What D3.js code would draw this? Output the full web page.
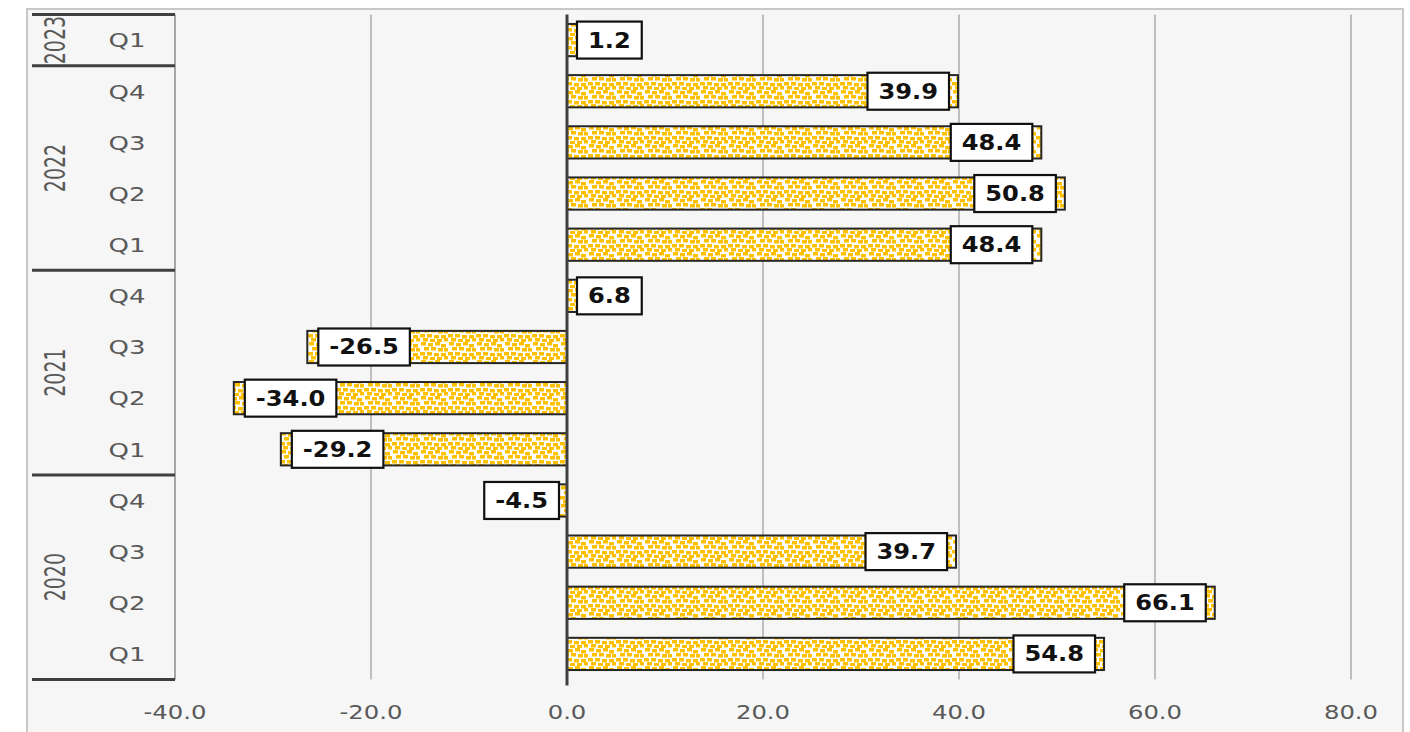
<!DOCTYPE html>
<html>
<head>
<meta charset="utf-8">
<script src="https://cdn.jsdelivr.net/npm/d3@7"></script>
<style>
  body { margin: 0; background: #fff; }
  svg { display: block; }
</style>
</head>
<body>
<svg id="chart"></svg>
<script>
// chronological order, drawn bottom-up
const years = ["2020", "2020", "2020", "2020", "2021", "2021", "2021", "2021", "2022", "2022", "2022", "2022", "2023"];
const quarters = ["Q1", "Q2", "Q3", "Q4", "Q1", "Q2", "Q3", "Q4", "Q1", "Q2", "Q3", "Q4", "Q1"];
const values = [54.8, 66.1, 39.7, -4.5, -29.2, -34.0, -26.5, 6.8, 48.4, 50.8, 48.4, 39.9, 1.2];
const xTicks = [-40, -20, 0, 20, 40, 60, 80];

const W = 1410, H = 732;
const plotL = 175, plotR = 1351, plotT = 14.5, plotB = 679.5;
const fmt = v => v.toFixed(1);

const svg = d3.select("#chart").attr("width", W).attr("height", H);

// chart area
svg.append("rect")
  .attr("x", 27).attr("y", 9).attr("width", 1376).attr("height", 730)
  .attr("fill", "#f6f6f6").attr("stroke", "#c8c8c8").attr("stroke-width", 2);

// dotted fill of the bars
const defs = svg.append("defs");
const pat = defs.append("pattern")
  .attr("id", "dots").attr("patternUnits", "userSpaceOnUse")
  .attr("width", 28).attr("height", 18);
pat.append("rect").attr("width", 28).attr("height", 18).attr("fill", "#fff");
[[1, 0], [8, 1], [15, 0], [21, 2], [4, 5], [11, 5], [18, 6], [24, 6],
 [0, 10], [7, 10], [14, 11], [21, 11], [3, 14], [10, 15], [17, 15], [24, 14]].forEach(p => {
  pat.append("rect").attr("x", p[0]).attr("y", p[1]).attr("width", 5).attr("height", 3.5).attr("fill", "#ffc000");
});

const idx = d3.range(values.length);
const x = d3.scaleLinear().domain([-40, 80]).range([plotL, plotR]);
const y = d3.scaleBand().domain(idx.slice().reverse()).range([plotT, plotB]).paddingInner(0.37).paddingOuter(0.185);
const step = y.step();
const rowY = i => plotT + (values.length - 1 - i) * step;

// stretched text helper
function stext(parent, cx, cy, str, size, sx, opts = {}) {
  const g = parent.append("g")
    .attr("transform", `translate(${cx},${cy}) scale(${sx},1)${opts.rotate ? " rotate(" + opts.rotate + ")" : ""}`);
  return g.append("text")
    .attr("text-anchor", "middle").attr("dominant-baseline", "central")
    .attr("font-family", "DejaVu Sans").attr("font-size", size)
    .attr("font-weight", opts.bold ? "bold" : "normal")
    .attr("fill", opts.fill || "#595959")
    .text(str);
}

// gridlines
svg.append("g").selectAll("line")
  .data(xTicks.filter(t => t !== 0 && t !== -40))
  .join("line")
  .attr("x1", d => x(d)).attr("x2", d => x(d))
  .attr("y1", plotT).attr("y2", plotB)
  .attr("stroke", "#bfbfbf").attr("stroke-width", 2);

// x tick labels
const xt = svg.append("g");
xTicks.forEach(t => stext(xt, x(t), 712, fmt(t), 19, 1.28));

// bars
svg.append("g").selectAll("rect")
  .data(idx)
  .join("rect")
  .attr("x", i => Math.min(x(0), x(values[i])))
  .attr("width", i => Math.abs(x(values[i]) - x(0)))
  .attr("y", i => y(i))
  .attr("height", y.bandwidth())
  .attr("fill", "url(#dots)").attr("stroke", "#262626").attr("stroke-width", 2);

// zero line
svg.append("line")
  .attr("x1", x(0)).attr("x2", x(0)).attr("y1", plotT).attr("y2", plotB + 6)
  .attr("stroke", "#404040").attr("stroke-width", 3);

// category axis
const cat = svg.append("g");
cat.append("line")
  .attr("x1", plotL).attr("x2", plotL).attr("y1", plotT).attr("y2", plotB)
  .attr("stroke", "#a6a6a6").attr("stroke-width", 2);

idx.forEach(i => stext(cat, 127, y(i) + y.bandwidth() / 2, quarters[i], 20, 1.3));

// year groups
const groups = d3.groups(idx, i => years[i]);
const bounds = [];
groups.forEach(([yr, list]) => {
  const y0 = rowY(d3.max(list));
  const y1 = rowY(d3.min(list)) + step;
  bounds.push(y0, y1);
  stext(cat, 56, (y0 + y1) / 2, yr, 19, 1.45, { rotate: -90 });
});
cat.selectAll("line.sep")
  .data(Array.from(new Set(bounds.map(b => Math.round(b * 10) / 10))))
  .join("line")
  .attr("class", "sep")
  .attr("x1", 32).attr("x2", plotL).attr("y1", d => d).attr("y2", d => d)
  .attr("stroke", "#404040").attr("stroke-width", 3);

// data labels
const lab = svg.append("g");
idx.forEach(i => {
  const v = values[i];
  const cy = y(i) + y.bandwidth() / 2;
  const box = lab.append("rect");
  const t = stext(lab, 0, cy, fmt(v), 21, 1.15, { bold: true, fill: "#111" });
  const w = t.node().getComputedTextLength() * 1.15 + 22;
  let bx;
  if (v >= 0) {
    bx = Math.max(x(v) - 9 - w, x(0) + 10);
  } else {
    bx = Math.min(x(v) + 11, x(0) - 8 - w);
  }
  box.attr("x", bx).attr("y", cy - 18.5)
    .attr("width", w).attr("height", 37)
    .attr("fill", "#fff").attr("stroke", "#111").attr("stroke-width", 2.2);
  d3.select(t.node().parentNode).attr("transform", `translate(${bx + w / 2},${cy}) scale(1.15,1)`);
});
</script>
</body>
</html>
